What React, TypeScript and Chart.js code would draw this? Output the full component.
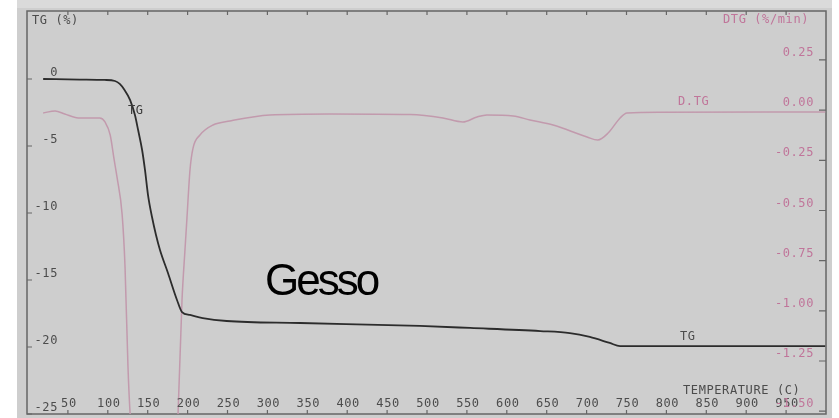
import React, { useEffect, useRef } from "react";
import { Chart, registerables } from "chart.js";

Chart.register(...registerables);

// Thermogravimetric run: temperature (°C) against mass change TG (%)
const TG_TEMPS = [19, 65, 96, 109, 115, 121, 128, 134, 138, 143, 146.6, 150.4, 155.4, 160.4, 165.4, 175.4, 186.7, 193, 203, 219, 249, 341, 491, 554, 642, 679, 704, 729, 742, 842, 999];
const TG_VALUES = [0.0, -0.04, -0.07, -0.15, -0.37, -0.82, -1.57, -2.69, -3.81, -5.3, -6.79, -8.66, -10.3, -11.64, -12.76, -14.48, -16.49, -17.39, -17.61, -17.84, -18.06, -18.21, -18.43, -18.58, -18.81, -18.96, -19.25, -19.7, -19.93, -19.93, -19.93];

// Derivative curve D.TG (%/min)
const DTG_TEMPS = [19, 34, 46, 63, 78, 90, 96.5, 103, 108, 111.5, 118, 121.6, 125.3, 128, 133, 185, 188, 193, 196.7, 199.2, 203, 206.8, 215.5, 231.8, 253, 303, 378, 479, 520, 545, 562.7, 575, 608, 629, 658, 700.5, 714, 727, 742, 750.6, 792, 999];
const DTG_VALUES = [-0.014, -0.004, -0.019, -0.039, -0.039, -0.039, -0.059, -0.124, -0.248, -0.333, -0.522, -0.782, -1.28, -1.514, -1.7, -1.7, -1.514, -0.946, -0.697, -0.537, -0.298, -0.189, -0.124, -0.074, -0.054, -0.024, -0.019, -0.022, -0.039, -0.059, -0.034, -0.024, -0.029, -0.049, -0.074, -0.134, -0.149, -0.114, -0.039, -0.014, -0.011, -0.009];

// Axis ticks
const X_TICKS = [50, 100, 150, 200, 250, 300, 350, 400, 450, 500, 550, 600, 650, 700, 750, 800, 850, 900, 950];
const TG_TICKS = [0, -5, -10, -15, -20, -25];
const TG_TICK_LABELS = ["0", "-5", "-10", "-15", "-20", "-25"];
const DTG_TICKS = [0.25, 0, -0.25, -0.5, -0.75, -1, -1.25, -1.5];
const DTG_TICK_LABELS = ["0.25", "0.00", "-0.25", "-0.50", "-0.75", "-1.00", "-1.25", "-1.50"];

const SAMPLE_NAME = "Gesso";

const W = 839;
const H = 418;
const PLOT_FONT = '12px "DejaVu Sans Mono"';
const DARK_TEXT = "#4c4c4c";
const PINK_TEXT = "#c0759a";

function plotterText(
  ctx: CanvasRenderingContext2D,
  text: string,
  x: number,
  y: number,
  color: string,
  align: CanvasTextAlign = "left"
) {
  ctx.save();
  ctx.font = PLOT_FONT;
  (ctx as any).letterSpacing = "0.6px";
  ctx.fillStyle = color;
  ctx.textAlign = align;
  ctx.textBaseline = "middle";
  ctx.fillText(text, x, y);
  ctx.restore();
}

const decorPlugin = {
  id: "tgaDecor",
  beforeDraw(chart: any) {
    const ctx: CanvasRenderingContext2D = chart.ctx;
    ctx.save();
    ctx.fillStyle = "#ffffff";
    ctx.fillRect(0, 0, W, H);
    ctx.fillStyle = "#cecece";
    ctx.fillRect(17, 0, 815, H);
    ctx.fillStyle = "#dadada";
    ctx.fillRect(17, 0, 815, 8);
    ctx.restore();
  },
  beforeDatasetsDraw(chart: any) {
    const ctx: CanvasRenderingContext2D = chart.ctx;
    const { left, right, top, bottom } = chart.chartArea;
    const xs = chart.scales.x;
    const ys = chart.scales.y;
    const y1 = chart.scales.y1;
    ctx.save();
    ctx.strokeStyle = "#666666";
    ctx.lineWidth = 1.5;
    ctx.strokeRect(left - 1, top - 1, right - left + 1, bottom - top + 1);
    ctx.lineWidth = 1.2;
    ctx.beginPath();
    X_TICKS.forEach((t) => {
      const px = xs.getPixelForValue(t);
      ctx.moveTo(px, bottom);
      ctx.lineTo(px, bottom - 4);
      ctx.moveTo(px, top - 1);
      ctx.lineTo(px, top + 3);
    });
    TG_TICKS.forEach((v) => {
      const py = ys.getPixelForValue(v);
      ctx.moveTo(left - 1, py);
      ctx.lineTo(left + 4, py);
    });
    DTG_TICKS.forEach((v) => {
      const py = y1.getPixelForValue(v);
      ctx.moveTo(right, py);
      ctx.lineTo(right - 7, py);
    });
    ctx.stroke();
    ctx.restore();
  },
  afterDatasetsDraw(chart: any) {
    const ctx: CanvasRenderingContext2D = chart.ctx;
    const xs = chart.scales.x;
    const ys = chart.scales.y;
    const y1 = chart.scales.y1;
    const { bottom } = chart.chartArea;

    X_TICKS.forEach((t) => {
      plotterText(ctx, String(t), xs.getPixelForValue(t) + 1, bottom - 10, DARK_TEXT, "center");
    });
    TG_TICKS.forEach((v, i) => {
      plotterText(ctx, TG_TICK_LABELS[i], 58, ys.getPixelForValue(v) - 6, DARK_TEXT, "right");
    });
    DTG_TICKS.forEach((v, i) => {
      plotterText(ctx, DTG_TICK_LABELS[i], 814, y1.getPixelForValue(v) - 7, PINK_TEXT, "right");
    });

    plotterText(ctx, "TG (%)", 32, 21, DARK_TEXT);
    plotterText(ctx, "DTG (%/min)", 723, 20, PINK_TEXT);
    plotterText(ctx, "TG", 128, 111, "#3a3a3a");
    plotterText(ctx, "D.TG", 678, 102, PINK_TEXT);
    plotterText(ctx, "TG", 680, 337, DARK_TEXT);
    plotterText(ctx, "TEMPERATURE (C)", 683, 391, DARK_TEXT);

    ctx.save();
    ctx.font = '44px "Liberation Sans"';
    (ctx as any).letterSpacing = "-3px";
    ctx.fillStyle = "#000000";
    ctx.textAlign = "left";
    ctx.textBaseline = "alphabetic";
    ctx.fillText(SAMPLE_NAME, 265, 295);
    ctx.restore();
  },
};

export default function App() {
  const canvasRef = useRef<HTMLCanvasElement | null>(null);

  useEffect(() => {
    if (!canvasRef.current) return;
    const chart = new Chart(canvasRef.current, {
      type: "line",
      data: {
        datasets: [
          {
            label: "TG",
            data: TG_TEMPS.map((t, i) => ({ x: t, y: TG_VALUES[i] })),
            yAxisID: "y",
            borderColor: "#2c2c2c",
            borderWidth: 1.8,
            pointRadius: 0,
            cubicInterpolationMode: "monotone",
            fill: false,
          },
          {
            label: "D.TG",
            data: DTG_TEMPS.map((t, i) => ({ x: t, y: DTG_VALUES[i] })),
            yAxisID: "y1",
            borderColor: "#c29aad",
            borderWidth: 1.5,
            pointRadius: 0,
            cubicInterpolationMode: "monotone",
            fill: false,
          },
        ],
      },
      options: {
        animation: false,
        responsive: false,
        devicePixelRatio: 1,
        layout: { padding: { left: 28, right: 13, top: 12, bottom: 4 } },
        plugins: {
          legend: { display: false },
          tooltip: { enabled: false },
        },
        scales: {
          x: { type: "linear", min: 0, max: 1000, display: false },
          y: { type: "linear", min: -25, max: 5, display: false },
          y1: { type: "linear", min: -1.514, max: 0.489, display: false },
        },
      },
      plugins: [decorPlugin],
    });
    return () => chart.destroy();
  }, []);

  return (
    <div style={{ position: "fixed", left: 0, top: 0, width: W, height: H }}>
      <canvas ref={canvasRef} width={W} height={H} style={{ display: "block" }} />
    </div>
  );
}
